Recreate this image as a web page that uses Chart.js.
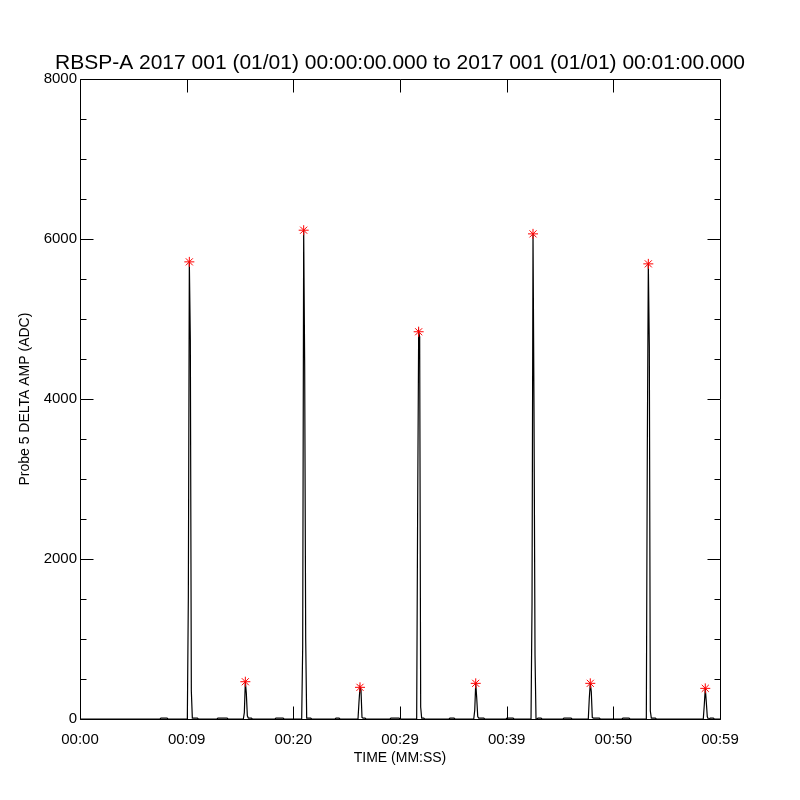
<!DOCTYPE html>
<html>
<head>
<meta charset="utf-8">
<script src="https://cdn.jsdelivr.net/npm/chart.js@4/dist/chart.umd.min.js"></script>
<style>
  html, body { margin: 0; padding: 0; background: #fff; }
  #wrap { width: 800px; height: 800px; }
</style>
</head>
<body>
<div id="wrap"><canvas id="c" width="800" height="800"></canvas></div>
<script>
// --- data ---
const titleText = "RBSP-A 2017 001 (01/01) 00:00:00.000 to 2017 001 (01/01) 00:01:00.000";
const xTitle = "TIME (MM:SS)";
const yTitle = "Probe 5 DELTA AMP (ADC)";
const xTickLabels = ["00:00", "00:09", "00:20", "00:29", "00:39", "00:50", "00:59"];
const yTickLabels = ["0", "2000", "4000", "6000", "8000"];

// sample spacing of the burst data, seconds
const sampleDt = 0.09375;

// time of the max sample of each burst (s)
const burstPeakTimes = [10.25, 15.50, 20.97, 26.25, 31.75, 37.10, 42.47, 47.84, 53.28, 58.62];
// samples of each burst, the max is at index 2
const burstValues = [
  [0, 1510, 5716, 4738, 350, 12, 12, 12, 12, 12, 12, 0],
  [0, 80, 466, 320, 40, 12, 12, 12, 12, 0],
  [0, 890, 6112, 4404, 1010, 12, 12, 12, 12, 12, 0],
  [0, 216, 396, 360, 20, 12, 12, 12, 0],
  [0, 2675, 4842, 4780, 150, 12, 12, 12, 0],
  [0, 110, 446, 260, 30, 12, 12, 12, 12, 12, 12, 0],
  [0, 1425, 6066, 3838, 800, 0, 0, 12, 12, 12, 12, 0],
  [0, 260, 446, 340, 20, 12, 12, 12, 12, 12, 12, 12, 0],
  [0, 3400, 5691, 4650, 100, 12, 12, 12, 12, 12, 0],
  [0, 175, 383, 216, 30, 0, 0, 12, 12, 12, 12, 0]
];

// small humps on the baseline between bursts
const humpStart = [7.50, 12.84, 18.28, 23.91, 29.06, 34.59, 39.94, 45.28, 50.81];
const humpEnd   = [8.25, 13.88, 19.13, 24.38, 30.00, 35.16, 40.69, 46.13, 51.56];
const humpLevel = [12, 12, 12, 10, 12, 10, 12, 12, 12];

// --- build the series ---
const events = [];
burstPeakTimes.forEach((tp, i) => {
  burstValues[i].forEach((v, j) => events.push({ x: tp + (j - 2) * sampleDt, y: v }));
});
humpStart.forEach((t0, i) => {
  events.push({ x: t0, y: 0 }, { x: t0 + sampleDt, y: humpLevel[i] },
              { x: humpEnd[i] - sampleDt, y: humpLevel[i] }, { x: humpEnd[i], y: 0 });
});
events.sort((a, b) => a.x - b.x);
const linePts = [{ x: 0, y: 0 }, ...events, { x: 60, y: 0 }];

// red asterisks on burst maxima
const peakPts = burstPeakTimes.map((t, i) => ({ x: t, y: Math.max(...burstValues[i]) }));

// box + inward ticks like the IDL plot
const MAJOR = 13, MINOR = 6, Y_MINOR = 4;
const frame = {
  id: "frame",
  afterDatasetsDraw(chart) {
    const { ctx, chartArea: a, scales: { x, y } } = chart;
    const L = Math.round(a.left) + 0.5, R = Math.round(a.right) + 0.5;
    const T = Math.round(a.top) + 0.5, B = Math.round(a.bottom) + 0.5;
    ctx.save();
    ctx.strokeStyle = "#000";
    ctx.lineWidth = 1;
    ctx.beginPath();
    ctx.rect(L, T, R - L, B - T);
    x.ticks.forEach(t => {
      const px = Math.round(x.getPixelForValue(t.value)) + 0.5;
      ctx.moveTo(px, B); ctx.lineTo(px, B - MAJOR);
      ctx.moveTo(px, T); ctx.lineTo(px, T + MAJOR);
    });
    const yv = y.ticks.map(t => t.value);
    const hTick = (v, len) => {
      const py = Math.round(y.getPixelForValue(v)) + 0.5;
      ctx.moveTo(L, py); ctx.lineTo(L + len, py);
      ctx.moveTo(R, py); ctx.lineTo(R - len, py);
    };
    yv.forEach((v, i) => {
      hTick(v, MAJOR);
      if (i < yv.length - 1) {
        for (let k = 1; k < Y_MINOR; k++) hTick(v + (yv[i + 1] - v) * k / Y_MINOR, MINOR);
      }
    });
    ctx.stroke();
    ctx.restore();
  }
};

const FONT = "'Liberation Sans', Arial, sans-serif";

new Chart(document.getElementById("c").getContext("2d"), {
  type: "scatter",
  data: {
    datasets: [
      { label: "amp", data: linePts, showLine: true, borderColor: "#000", borderWidth: 1.2,
        pointRadius: 0, tension: 0, order: 2 },
      { label: "peaks", data: peakPts, showLine: false, pointStyle: "star", pointRadius: 5,
        borderColor: "#ff0000", backgroundColor: "#ff0000", borderWidth: 1, order: 1 }
    ]
  },
  options: {
    responsive: false,
    animation: false,
    devicePixelRatio: 1,
    layout: { padding: 0 },
    plugins: {
      legend: { display: false },
      tooltip: { enabled: false },
      title: {
        display: true, text: titleText, color: "#000",
        font: { family: FONT, size: 21, weight: "normal" },
        padding: { top: 51, bottom: 3 }
      }
    },
    scales: {
      x: {
        type: "linear", min: 0, max: 60,
        grid: { display: false, drawTicks: false },
        border: { display: false },
        ticks: { stepSize: 10, padding: 12, color: "#000", maxRotation: 0,
                 font: { family: FONT, size: 15 },
                 callback: (v, i) => xTickLabels[i] },
        title: { display: true, text: xTitle, color: "#000",
                 font: { family: FONT, size: 14 }, padding: { top: 0, bottom: 33 } },
        afterFit: s => { s.height = 81; }
      },
      y: {
        type: "linear", min: 0, max: 8000,
        grid: { display: false, drawTicks: false },
        border: { display: false },
        ticks: { stepSize: 2000, padding: 3, color: "#000",
                 font: { family: FONT, size: 15 },
                 callback: (v, i) => yTickLabels[i] },
        title: { display: true, text: yTitle, color: "#000",
                 font: { family: FONT, size: 14 }, padding: { top: 17, bottom: 0 } },
        afterFit: s => { s.width = 80; }
      },
      // empty right-hand margin, keeps the plot and title centred
      yRight: {
        type: "linear", position: "right", display: true,
        grid: { display: false, drawTicks: false },
        border: { display: false },
        ticks: { display: false },
        afterFit: s => { s.width = 80; }
      }
    }
  },
  plugins: [frame]
});
</script>
</body>
</html>
